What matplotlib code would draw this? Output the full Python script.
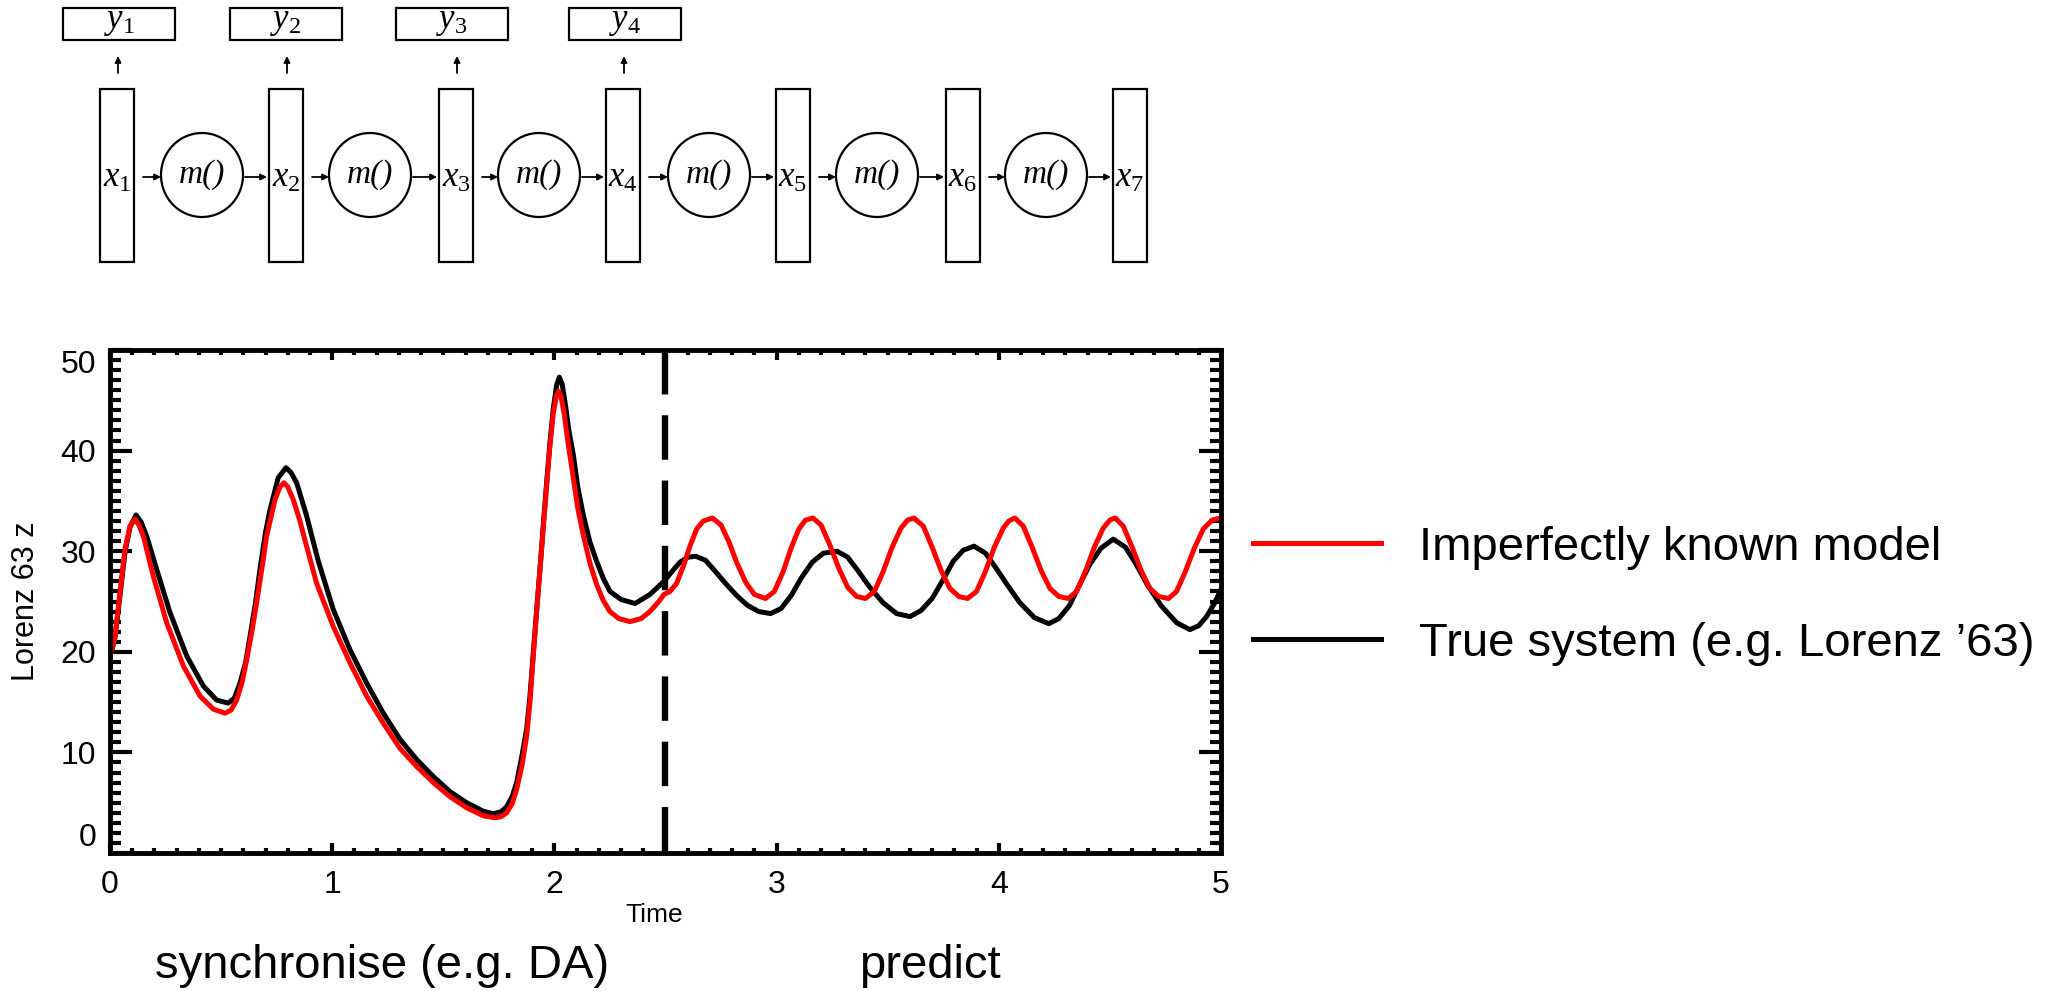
#!/usr/bin/env python3
# -*- coding: utf-8 -*-

import matplotlib
matplotlib.use('Agg')
import matplotlib.pyplot as plt
from matplotlib.patches import Rectangle, Ellipse

plt.rcParams['font.family'] = ['Liberation Sans', 'DejaVu Sans']
plt.rcParams['mathtext.fontset'] = 'custom'
plt.rcParams['mathtext.it'] = 'Liberation Serif:italic'
plt.rcParams['mathtext.rm'] = 'Liberation Serif'
plt.rcParams['lines.scale_dashes'] = False

# imperfect model (red)
t_model = [0.0, 0.01, 0.0225, 0.045, 0.0675, 0.09, 0.1125, 0.13, 0.15, 0.195, 0.255, 0.33,
           0.405, 0.465, 0.5175, 0.545, 0.57, 0.595, 0.615, 0.64, 0.66, 0.685, 0.705, 0.7425,
           0.765, 0.783, 0.80, 0.825, 0.855, 0.87, 0.93, 1.005, 1.08, 1.155, 1.23, 1.305,
           1.38, 1.455, 1.53, 1.605, 1.68, 1.733, 1.76, 1.785, 1.81, 1.83, 1.855, 1.875,
           1.89, 1.905, 1.92, 1.935, 1.95, 1.965, 1.98, 1.995, 2.008, 2.018, 2.03, 2.045,
           2.06, 2.085, 2.105, 2.13, 2.16, 2.19, 2.22, 2.25, 2.29, 2.34, 2.39, 2.43,
           2.47, 2.493, 2.52, 2.55, 2.58, 2.61, 2.64, 2.67, 2.711, 2.75, 2.786, 2.82,
           2.861, 2.90, 2.95, 2.99, 3.03, 3.065, 3.10, 3.13, 3.164, 3.20, 3.24, 3.28,
           3.32, 3.36, 3.40, 3.44, 3.48, 3.52, 3.56, 3.59, 3.618, 3.66, 3.70, 3.74,
           3.78, 3.82, 3.859, 3.90, 3.94, 3.98, 4.02, 4.045, 4.072, 4.11, 4.15, 4.19,
           4.23, 4.27, 4.313, 4.35, 4.39, 4.43, 4.47, 4.50, 4.524, 4.56, 4.60, 4.64,
           4.68, 4.72, 4.764, 4.80, 4.84, 4.88, 4.92, 4.96, 5.00]
z_model = [19.8, 20.3, 21.5, 25.9, 30.2, 32.5, 33.2, 32.6, 31.5, 27.5, 22.9, 18.6,
           15.6, 14.3, 13.9, 14.2, 15.2, 17.0, 19.2, 22.2, 24.9, 28.5, 31.5, 35.1,
           36.4, 36.8, 36.4, 35.1, 33.0, 31.7, 26.8, 22.5, 18.9, 15.6, 12.9, 10.4,
           8.6, 7.0, 5.6, 4.5, 3.7, 3.5, 3.6, 4.0, 4.9, 6.3, 8.8, 11.6,
           15.0, 19.6, 24.0, 28.2, 32.5, 36.5, 40.5, 43.7, 45.3, 45.9, 45.4, 43.5,
           41.0, 37.3, 34.3, 31.6, 28.8, 26.7, 25.1, 24.0, 23.3, 23.0, 23.3, 24.0,
           25.0, 25.7, 26.0, 26.8, 28.5, 30.5, 32.2, 33.0, 33.3, 32.6, 30.9, 28.9,
           26.9, 25.7, 25.3, 26.0, 28.0, 30.3, 32.2, 33.1, 33.3, 32.6, 30.6, 28.3,
           26.4, 25.5, 25.3, 26.0, 28.0, 30.4, 32.3, 33.1, 33.3, 32.5, 30.4, 28.1,
           26.3, 25.5, 25.3, 26.0, 28.0, 30.4, 32.3, 33.0, 33.3, 32.5, 30.4, 28.1,
           26.3, 25.5, 25.3, 26.0, 28.0, 30.4, 32.3, 33.1, 33.3, 32.5, 30.4, 28.1,
           26.3, 25.5, 25.3, 26.0, 28.0, 30.3, 32.2, 33.1, 33.3]

# true system (black)
t_true = [0.0, 0.01, 0.0225, 0.045, 0.0675, 0.09, 0.117, 0.14, 0.165, 0.21, 0.27, 0.345,
          0.42, 0.48, 0.532, 0.56, 0.585, 0.61, 0.63, 0.655, 0.675, 0.70, 0.72, 0.757,
          0.792, 0.815, 0.84, 0.885, 0.9375, 1.005, 1.08, 1.155, 1.23, 1.305, 1.38, 1.455,
          1.53, 1.605, 1.68, 1.725, 1.76, 1.785, 1.81, 1.83, 1.855, 1.875, 1.89, 1.905,
          1.92, 1.935, 1.95, 1.965, 1.98, 1.995, 2.01, 2.022, 2.035, 2.05, 2.065, 2.085,
          2.105, 2.13, 2.16, 2.19, 2.22, 2.25, 2.30, 2.363, 2.43, 2.493, 2.53, 2.565,
          2.60, 2.636, 2.68, 2.72, 2.77, 2.82, 2.87, 2.92, 2.973, 3.02, 3.066, 3.11,
          3.16, 3.21, 3.272, 3.32, 3.365, 3.42, 3.478, 3.54, 3.60, 3.65, 3.70, 3.75,
          3.795, 3.84, 3.889, 3.94, 3.982, 4.04, 4.094, 4.16, 4.225, 4.27, 4.318, 4.36,
          4.41, 4.46, 4.515, 4.57, 4.618, 4.67, 4.73, 4.80, 4.86, 4.90, 4.935, 4.97,
          5.00]
z_true = [19.8, 20.3, 21.4, 25.6, 29.9, 32.4, 33.6, 32.9, 31.5, 28.2, 23.9, 19.6,
          16.6, 15.2, 14.9, 15.4, 16.9, 18.9, 21.5, 24.9, 28.2, 31.9, 34.1, 37.3,
          38.3, 37.8, 36.8, 33.5, 29.0, 24.2, 20.2, 16.9, 13.9, 11.3, 9.3, 7.6,
          6.1, 5.0, 4.15, 3.9, 4.1, 4.6, 5.6, 7.0, 9.8, 12.3, 15.6, 19.9,
          24.1, 28.2, 32.6, 36.8, 40.8, 44.2, 46.5, 47.3, 46.6, 44.5, 42.0, 39.6,
          36.4, 33.6, 30.9, 29.0, 27.3, 26.0, 25.2, 24.8, 25.7, 27.0, 28.0, 28.9,
          29.4, 29.5, 29.1, 28.1, 26.8, 25.6, 24.6, 24.0, 23.8, 24.3, 25.6, 27.3,
          28.9, 29.8, 30.0, 29.4, 28.1, 26.4, 24.9, 23.8, 23.5, 24.1, 25.3, 27.2,
          29.0, 30.1, 30.5, 29.8, 28.5, 26.6, 24.9, 23.4, 22.8, 23.3, 24.6, 26.5,
          28.7, 30.3, 31.2, 30.4, 28.7, 26.6, 24.6, 22.9, 22.2, 22.6, 23.5, 24.8,
          26.2]

t_switch = 2.5
labels = ['Imperfectly known model', u'True system (e.g. Lorenz \u201963)']
y_ticks = [0, 10, 20, 30, 40, 50]
x_ticks = [0, 1, 2, 3, 4, 5]

W, H = 2066, 991
fig = plt.figure(figsize=(W / 100, H / 100), dpi=100)

# ---- schematic on top, drawn in pixel coordinates
ax0 = fig.add_axes([0, 0, 1, 1])
ax0.set_xlim(0, W)
ax0.set_ylim(H, 0)
ax0.axis('off')

xbox_cx = [117, 286, 456, 623, 793, 963, 1130]
circ_cx = [202, 370, 539, 709, 877, 1046]
ybox_cx = [119, 286, 452, 625]
lw_d = 1.6
arr = dict(arrowstyle='-|>', lw=1.3, color='black', mutation_scale=9, shrinkA=0, shrinkB=0)
for i, cx in enumerate(xbox_cx):
  ax0.add_patch(Rectangle((cx - 17, 89), 34, 173, fill=False, lw=lw_d, ec='black'))
  ax0.text(cx, 178, r'$x_{\mathit{%d}}$' % (i + 1), ha='center', va='center', fontsize=25)
for i, cx in enumerate(circ_cx):
  ax0.add_patch(Ellipse((cx, 175), 82, 84, fill=False, lw=lw_d, ec='black'))
  ax0.text(cx, 175, 'm()', ha='center', va='center', fontsize=24,
           family='Liberation Serif', style='italic')
  ax0.annotate('', xy=(cx - 41, 177), xytext=(xbox_cx[i] + 26, 177), arrowprops=arr)
  ax0.annotate('', xy=(xbox_cx[i + 1] - 19, 177), xytext=(cx + 43, 177), arrowprops=arr)
for i, cx in enumerate(ybox_cx):
  ax0.add_patch(Rectangle((cx - 56, 8), 112, 32, fill=False, lw=lw_d, ec='black'))
  ax0.text(cx, 22, r'$y_{\mathit{%d}}$' % (i + 1), ha='center', va='center', fontsize=25)
  ax0.annotate('', xy=(xbox_cx[i] + 1, 56), xytext=(xbox_cx[i] + 1, 73), arrowprops=arr)

# ---- time series
ax = fig.add_axes([110 / W, 1 - 853 / H, 1111 / W, 503 / H])
ax.plot([t_switch, t_switch], [50, 0], color='black', lw=4.6, linestyle=(0, (32, 15)))
l_true, = ax.plot(t_true, z_true, color='black', lw=3.6, label=labels[1])
l_model, = ax.plot(t_model, z_model, color='#ff0000', lw=3.6, label=labels[0])
ax.set_xlim(0, 5)
ax.set_ylim(0, 50)
ax.set_xticks(x_ticks)
ax.set_yticks(y_ticks)
ax.set_xticks([i / 10 for i in range(51)], minor=True)
ax.set_yticks(range(51), minor=True)
for s in ax.spines.values():
  s.set_linewidth(3.5)
ax.tick_params(which='both', direction='in', top=True, right=True, width=3, labelsize=23)
ax.tick_params(axis='y', which='major', length=16, pad=10)
ax.tick_params(axis='y', which='minor', length=8)
ax.tick_params(axis='x', which='major', length=7.5, pad=12)
ax.tick_params(axis='x', which='minor', length=3.8)
ax.set_xlabel('Time', fontsize=19)
ax.xaxis.set_label_coords(0.49, -0.1)
ax.set_ylabel('Lorenz 63 z', fontsize=22)
ax.yaxis.set_label_coords(-0.062, 0.5)

fig.legend([l_model, l_true], labels, loc='center left', bbox_to_anchor=(1253 / W, 1 - 596 / H),
           frameon=False, fontsize=34, handlelength=2.72, handletextpad=0.8,
           labelspacing=1.1, borderpad=0, borderaxespad=0)

fig.text(382 / W, 1 - 966 / H, 'synchronise (e.g. DA)', ha='center', va='center', fontsize=34)
fig.text(930 / W, 1 - 966 / H, 'predict', ha='center', va='center', fontsize=34)

fig.canvas.draw()
yt = ax.yaxis.get_major_ticks()
yt[0].label1.set_va('bottom')
yt[-1].label1.set_va('top')

fig.savefig('out.png', dpi=100)
